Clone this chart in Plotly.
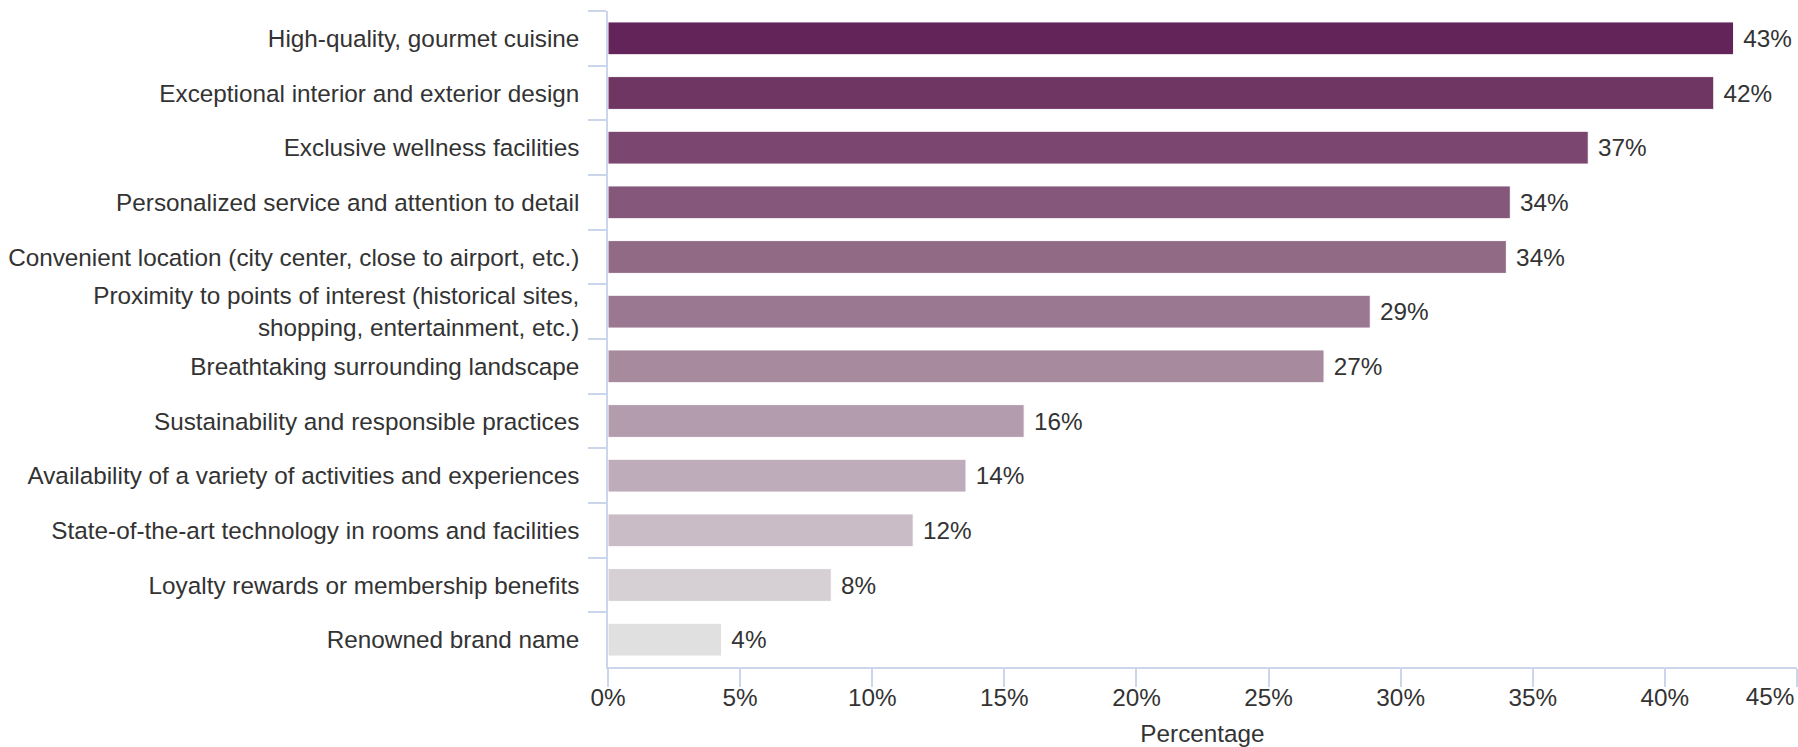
import plotly.graph_objects as go

# Survey results: share of respondents naming each feature
features = [
    "High-quality, gourmet cuisine",
    "Exceptional interior and exterior design",
    "Exclusive wellness facilities",
    "Personalized service and attention to detail",
    "Convenient location (city center, close to airport, etc.)",
    "Proximity to points of interest (historical sites,<br>shopping, entertainment, etc.)",
    "Breathtaking surrounding landscape",
    "Sustainability and responsible practices",
    "Availability of a variety of activities and experiences",
    "State-of-the-art technology in rooms and facilities",
    "Loyalty rewards or membership benefits",
    "Renowned brand name",
]
percentages = [42.6, 41.85, 37.1, 34.15, 34.0, 28.85, 27.1, 15.75, 13.55, 11.55, 8.45, 4.3]

x_ticks = [0, 5, 10, 15, 20, 25, 30, 35, 40, 45]
x_max = 45

# plum-to-grey ramp, darkest for the top answer
bar_colors = [
    "#63245a", "#6f3563", "#7b466f", "#85577b", "#916a86", "#9b7891",
    "#a88a9f", "#b39cad", "#bfacbb", "#c9bcc6", "#d6d0d4", "#e0e0e0",
]

axis_color = "#ccd6eb"
text_color = "#333333"
font_family = "Liberation Sans, Arial, sans-serif"
font_size = 24.3

fig = go.Figure()
fig.add_trace(
    go.Bar(
        x=percentages,
        y=features,
        orientation="h",
        marker=dict(color=bar_colors, line=dict(color="#ffffff", width=1)),
        texttemplate="\u00a0%{x:.0f}%",
        textposition="outside",
        textfont=dict(size=font_size, color=text_color, family=font_family),
        cliponaxis=False,
        hoverinfo="skip",
    )
)
# empty helper trace so the overlay axis carrying the last tick label is drawn
fig.add_trace(
    go.Scatter(x=[], y=[], mode="markers", xaxis="x2", hoverinfo="skip", showlegend=False)
)

fig.update_layout(
    width=1798,
    height=747,
    margin=dict(l=608, r=1, t=11, b=80, autoexpand=False),
    paper_bgcolor="#ffffff",
    plot_bgcolor="#ffffff",
    bargap=0.4,
    showlegend=False,
    font=dict(family=font_family, size=font_size, color=text_color),
)

fig.update_xaxes(
    range=[0, x_max],
    tickvals=x_ticks,
    ticktext=[f"{v}%" if v < x_max else "" for v in x_ticks],
    ticks="outside",
    ticklen=18,
    tickcolor=axis_color,
    tickwidth=1.5,
    showline=True,
    linecolor=axis_color,
    linewidth=1.5,
    showgrid=False,
    zeroline=False,
    automargin=False,
    ticklabelstandoff=-10,
    tickfont=dict(size=font_size, color=text_color),
    title=dict(text="Percentage", font=dict(size=font_size, color=text_color), standoff=18),
)

# the end label sits pulled back inside the chart edge
fig.update_layout(
    xaxis2=dict(
        overlaying="x",
        side="bottom",
        range=[0, x_max],
        tickvals=[x_max],
        ticktext=[f"{x_max}%"],
        ticks="outside",
        ticklen=18,
        tickcolor="rgba(0,0,0,0)",
        ticklabelshift=-27,
        ticklabelstandoff=-10,
        showline=False,
        showgrid=False,
        zeroline=False,
        automargin=False,
        tickfont=dict(size=font_size, color=text_color),
    )
)

fig.update_yaxes(
    type="category",
    categoryorder="array",
    categoryarray=features,
    range=[len(features) - 0.5, -0.5],
    tickson="boundaries",
    ticks="outside",
    ticklen=18,
    tickcolor=axis_color,
    tickwidth=1.5,
    showline=True,
    linecolor=axis_color,
    linewidth=1.5,
    showgrid=False,
    zeroline=False,
    automargin=False,
    ticklabelstandoff=22,
    tickfont=dict(size=font_size, color=text_color),
)

fig.write_html("out.html")
